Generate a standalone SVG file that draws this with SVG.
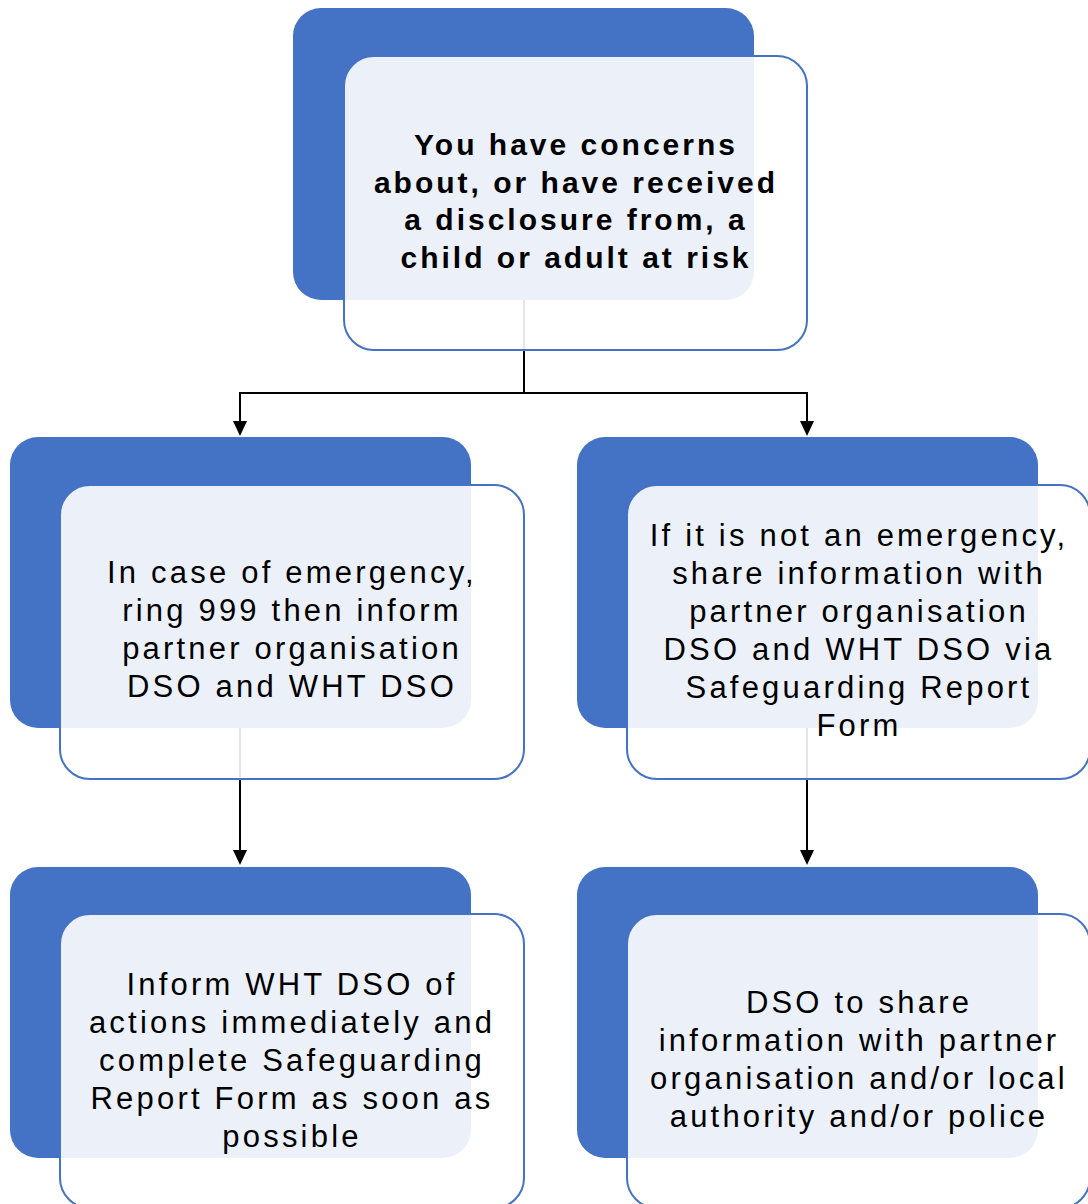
<svg xmlns="http://www.w3.org/2000/svg" width="1088" height="1204" viewBox="0 0 1088 1204">
<style>
.back{fill:#4472C4}
.front{fill:#FFFFFF;fill-opacity:0.9;stroke:#4472C4;stroke-width:2}
.t{font-family:"Liberation Sans",Arial,sans-serif;font-size:31px;letter-spacing:3.2px;fill:#000;text-anchor:middle}
.b{font-weight:bold;font-size:30px;letter-spacing:3px}
.c{fill:none;stroke:#000;stroke-width:2}
</style>
<rect width="1088" height="1204" fill="#fff"/>
<g id="connectors">
<path class="c" d="M524,300 V393 H240 V421"/>
<path d="M233,421 L247,421 L240,436 Z" fill="#000"/>
<path class="c" d="M524,393 H807 V421"/>
<path d="M800,421 L814,421 L807,436 Z" fill="#000"/>
<path class="c" d="M240,728 V850"/>
<path d="M233,850 L247,850 L240,865 Z" fill="#000"/>
<path class="c" d="M807,728 V850"/>
<path d="M800,850 L814,850 L807,865 Z" fill="#000"/>
</g>
<g id="n1">
<rect class="back" x="293" y="8" width="461" height="292" rx="28"/>
<rect class="front" x="344" y="56" width="463" height="294" rx="30"/>
<text class="t b"><tspan x="576" y="155">You have concerns</tspan><tspan x="576" y="193">about, or have received</tspan><tspan x="576" y="230">a disclosure from, a</tspan><tspan x="576" y="268">child or adult at risk</tspan></text>
</g>
<g id="n2">
<rect class="back" x="10" y="437" width="461" height="291" rx="28"/>
<rect class="front" x="60" y="485" width="464" height="294" rx="30"/>
<text class="t"><tspan x="292" y="583">In case of emergency,</tspan><tspan x="292" y="621">ring 999 then inform</tspan><tspan x="292" y="659">partner organisation</tspan><tspan x="292" y="697">DSO and WHT DSO</tspan></text>
</g>
<g id="n3">
<rect class="back" x="577" y="437" width="461" height="291" rx="28"/>
<rect class="front" x="627" y="485" width="463" height="294" rx="30"/>
<text class="t"><tspan x="859" y="546">If it is not an emergency,</tspan><tspan x="859" y="584">share information with</tspan><tspan x="859" y="622">partner organisation</tspan><tspan x="859" y="660">DSO and WHT DSO via</tspan><tspan x="859" y="698">Safeguarding Report</tspan><tspan x="859" y="736">Form</tspan></text>
</g>
<g id="n4">
<rect class="back" x="10" y="867" width="461" height="291" rx="28"/>
<rect class="front" x="60" y="914" width="464" height="294" rx="30"/>
<text class="t"><tspan x="292" y="995">Inform WHT DSO of</tspan><tspan x="292" y="1033">actions immediately and</tspan><tspan x="292" y="1071">complete Safeguarding</tspan><tspan x="292" y="1109">Report Form as soon as</tspan><tspan x="292" y="1147">possible</tspan></text>
</g>
<g id="n5">
<rect class="back" x="577" y="867" width="461" height="291" rx="28"/>
<rect class="front" x="627" y="914" width="463" height="294" rx="30"/>
<text class="t"><tspan x="859" y="1013">DSO to share</tspan><tspan x="859" y="1051">information with partner</tspan><tspan x="859" y="1089">organisation and/or local</tspan><tspan x="859" y="1127">authority and/or police</tspan></text>
</g>
</svg>
